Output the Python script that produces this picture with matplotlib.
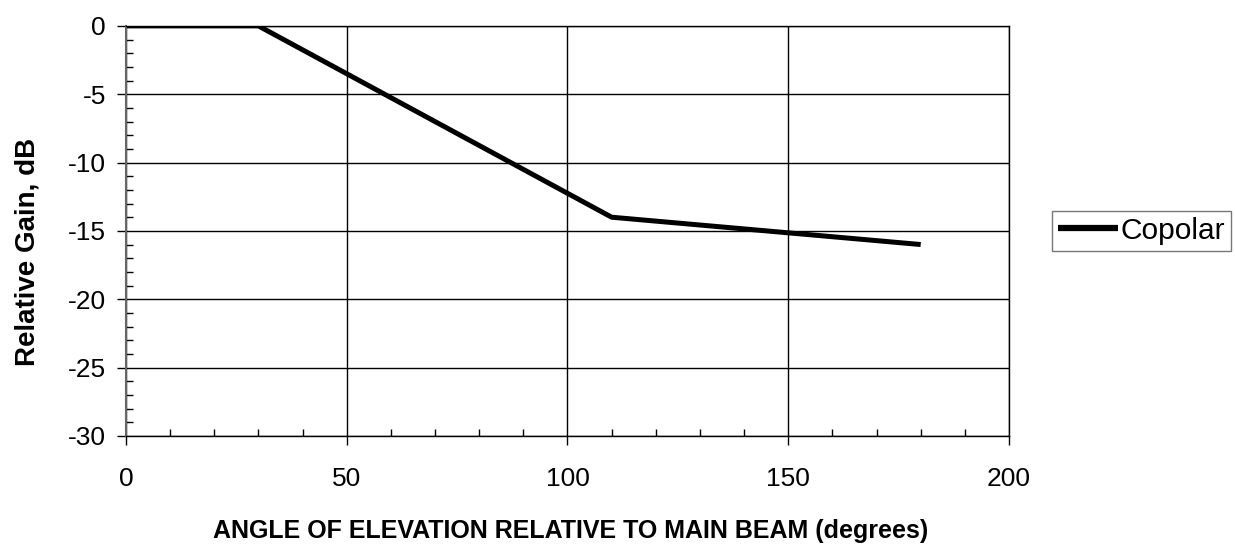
import numpy as np
import matplotlib
matplotlib.use("Agg")
import matplotlib.pyplot as plt
from matplotlib.ticker import MultipleLocator

plt.rcParams['font.family'] = ['Liberation Sans', 'DejaVu Sans']
plt.rcParams['axes.unicode_minus'] = False

# copolar pattern envelope
angle = [0, 30, 110, 180]
gain = [0, 0, -14, -16]

fig = plt.figure(figsize=(12.35, 5.51), dpi=100)
ax = fig.add_axes([0.102, 0.209, 0.715, 0.744])

ax.plot(angle, gain, color='black', lw=3.6, label='Copolar', solid_capstyle='butt')

ax.set_xlim(0, 200)
ax.set_ylim(-30, 0)
ax.xaxis.set_major_locator(MultipleLocator(50))
ax.xaxis.set_minor_locator(MultipleLocator(10))
ax.yaxis.set_major_locator(MultipleLocator(5))
ax.yaxis.set_minor_locator(MultipleLocator(1))
ax.grid(True, which='major', color='black', lw=1)
ax.tick_params(which='major', direction='out', length=6.5, width=1, labelsize=19)
ax.tick_params(axis='x', which='major', pad=16)
ax.tick_params(axis='y', which='major', pad=8)
ax.tick_params(which='minor', direction='in', length=5, width=1)
for s in ax.spines.values():
    s.set_linewidth(1)
ax.spines['left'].set_color('#666666')
ax.spines['left'].set_linewidth(1.5)

ax.set_xlabel('ANGLE OF ELEVATION RELATIVE TO MAIN BEAM (degrees)',
              fontsize=18, fontweight='bold', va='center')
ax.xaxis.set_label_coords(0.503, -0.232)
ax.set_ylabel('Relative Gain, dB', fontsize=20, fontweight='bold', va='center')
ax.yaxis.set_label_coords(-0.112, 0.449)

leg = ax.legend(loc='center left', bbox_to_anchor=(1.049, 0.5), frameon=True,
                fancybox=False, edgecolor='#555555', fontsize=21.5,
                handlelength=2.0, handletextpad=0.1, borderpad=0.2,
                borderaxespad=0)
leg.get_frame().set_linewidth(1)
leg.get_lines()[0].set_linewidth(4.5)

fig.savefig('out.png', dpi=100)
